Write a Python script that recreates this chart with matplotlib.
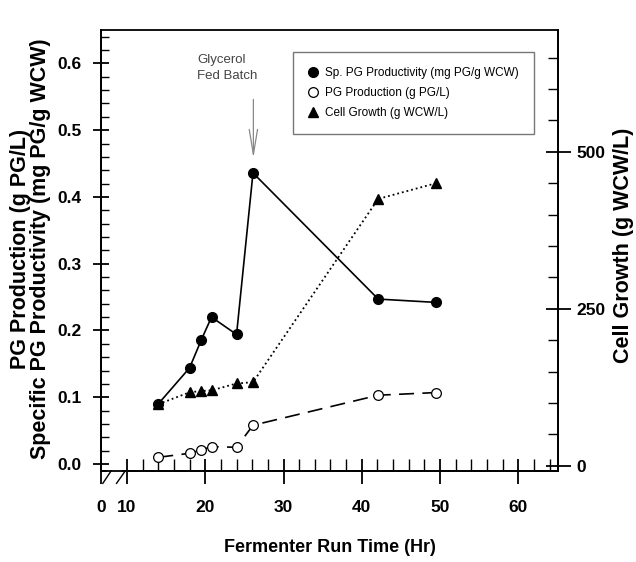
import matplotlib
matplotlib.use("Agg")
import matplotlib.pyplot as plt
from matplotlib.lines import Line2D
from matplotlib.ticker import FixedLocator, MultipleLocator
import numpy as np

# ---- data ----
run_time = [14, 18, 19.5, 20.8, 24, 26.1, 42.1, 49.5]
sp_productivity = [0.090, 0.144, 0.186, 0.220, 0.194, 0.436, 0.247, 0.242]
pg_production = [0.010, 0.016, 0.021, 0.026, 0.025, 0.058, 0.103, 0.107]
cell_growth = [98, 117, 119, 120, 131, 133, 425, 450]

x_tick_values = [10, 20, 30, 40, 50, 60]
left_ticks = [0.0, 0.1, 0.2, 0.3, 0.4, 0.5, 0.6]
right_ticks = [0, 250, 500]

FONT = ['Liberation Sans', 'DejaVu Sans']

fig = plt.figure(figsize=(6.36, 5.62), dpi=100)
W, H = 636, 562
L, R, T, B = 101, 558, 30, 471
ax = fig.add_axes([L / W, 1 - B / H, (R - L) / W, (B - T) / H])
ax2 = ax.twinx()

XMIN, XMAX = 6.68, 65.07
ax.set_xlim(XMIN, XMAX)
ax.set_ylim(-0.0105, 0.65)
ax2.set_ylim(-8.4, 694)

# series
ax.plot(run_time, sp_productivity, '-', color='black', lw=1.2,
        marker='o', ms=7, mfc='black', mec='black', zorder=3)
ax.plot(run_time, pg_production, color='black', lw=1.2, dashes=(9, 5),
        marker='o', ms=7, mfc='white', mec='black', mew=0.9, zorder=3)
ax2.plot(run_time, cell_growth, ':', color='black', lw=1.3,
         marker='^', ms=7.5, mfc='black', mec='black', zorder=2)

# spines
for a in (ax, ax2):
    for s in a.spines.values():
        s.set_linewidth(1.3)
    a.spines['top'].set_visible(False)
ax.spines['top'].set_visible(True)

# x ticks
ax.xaxis.set_major_locator(FixedLocator([XMIN] + x_tick_values))
ax.set_xticklabels(['0'] + [str(v) for v in x_tick_values])
ax.xaxis.set_minor_locator(FixedLocator(np.arange(12, 65, 2)))
ax.tick_params(axis='x', which='major', direction='inout', length=18, width=1.3, pad=12)
ax.tick_params(axis='x', which='minor', direction='in', length=9, width=1.0)
ax.tick_params(axis='x', which='both', top=False)

# left y ticks
ax.yaxis.set_major_locator(FixedLocator(left_ticks))
ax.set_yticklabels([f'{v:.1f}' for v in left_ticks])
ax.yaxis.set_minor_locator(MultipleLocator(0.02))
ax.tick_params(axis='y', which='major', direction='inout', length=12, width=1.3, pad=8)
ax.tick_params(axis='y', which='minor', direction='in', length=6, width=1.0)

# right y ticks
ax2.yaxis.set_major_locator(FixedLocator(right_ticks))
ax2.set_yticklabels([str(v) for v in right_ticks])
ax2.yaxis.set_minor_locator(MultipleLocator(50))
ax2.tick_params(axis='y', which='major', direction='inout', length=18, width=1.3, pad=4)
ax2.tick_params(axis='y', which='minor', direction='in', length=7, width=1.0)

for lab in ax.get_xticklabels() + ax.get_yticklabels() + ax2.get_yticklabels():
    lab.set_fontfamily(FONT)
    lab.set_fontweight('bold')
    lab.set_fontsize(12.5)

# axis break marks
ax.plot([0.004, 0.022], [-0.028, 0.0], transform=ax.transAxes, color='black',
        lw=1.0, clip_on=False, zorder=5)
ax.plot([0.034, 0.053], [-0.028, 0.0], transform=ax.transAxes, color='black',
        lw=1.0, clip_on=False, zorder=5)
ax.plot([0.016, 0.040], [0.0, 0.0], transform=ax.transAxes, color='white',
        lw=2.5, clip_on=False, zorder=4)

# annotation
ax.text(18.94, 0.614, 'Glycerol\nFed Batch', family=FONT, fontsize=9.5,
        color='#444444', ha='left', va='top', linespacing=1.45)
ax.annotate('', xy=(26.15, 0.458), xytext=(26.15, 0.546),
            arrowprops=dict(arrowstyle='->,head_length=1.8,head_width=0.3',
                            color='#888888', lw=0.9, mutation_scale=10,
                            shrinkA=0, shrinkB=0))

# legend
handles = [
    Line2D([], [], ls='none', marker='o', ms=7, mfc='black', mec='black'),
    Line2D([], [], ls='none', marker='o', ms=7, mfc='white', mec='black', mew=0.9),
    Line2D([], [], ls='none', marker='^', ms=7.5, mfc='black', mec='black'),
]
labels = ['Sp. PG Productivity (mg PG/g WCW)', 'PG Production (g PG/L)',
          'Cell Growth (g WCW/L)']
leg = ax2.legend(handles, labels, loc='upper left', bbox_to_anchor=(0.42, 0.95),
                 borderaxespad=0, fancybox=False, framealpha=1, edgecolor='#777777',
                 handlelength=0.8, handletextpad=0.6, labelspacing=0.65,
                 borderpad=1.3, prop={'family': FONT, 'size': 8.5})
leg.get_frame().set_linewidth(1.0)

# axis labels
fig.text(30.5 / W, 1 - 249 / H,
         'PG Production (g PG/L)\nSpecific PG Productivity (mg PG/g WCW)',
         rotation=90, ha='center', va='center', multialignment='center',
         family=FONT, fontweight='bold', fontsize=15.5, linespacing=0.88)
fig.text(623 / W, 1 - 245 / H, 'Cell Growth (g WCW/L)', rotation=90,
         ha='center', va='center', family=FONT, fontweight='bold', fontsize=15.5)
fig.text(330 / W, 1 - 548 / H, 'Fermenter Run Time (Hr)', ha='center',
         va='center', family=FONT, fontweight='bold', fontsize=13)

fig.savefig('out.png', dpi=100)
